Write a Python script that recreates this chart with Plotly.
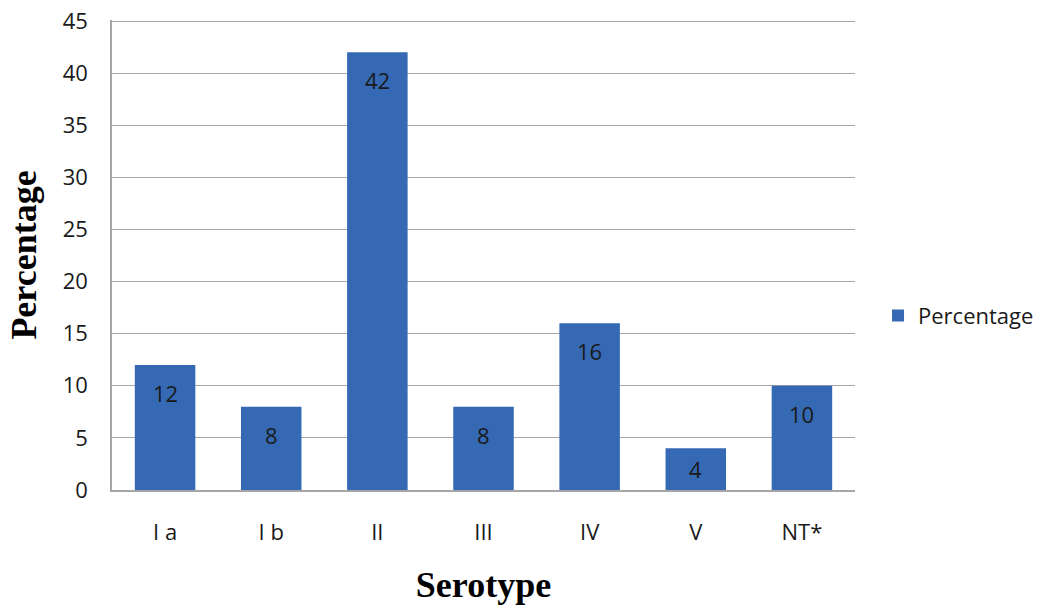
import plotly.graph_objects as go

categories = ["I a", "I b", "II", "III", "IV", "V", "NT*"]
percentages = [12, 8, 42, 8, 16, 4, 10]
series_name = "Percentage"
y_ticks = [0, 5, 10, 15, 20, 25, 30, 35, 40, 45]

BAR_COLOR = "#3569B3"
GRID = "#A6A6A6"
TICK_FONT = dict(family="Open Sans", size=22, color="#1a1a1a")
TITLE_FONT = dict(family="Liberation Serif", size=36, color="#000000")

fig = go.Figure()
fig.add_trace(go.Bar(
    x=categories,
    y=percentages,
    name=series_name,
    marker=dict(color=BAR_COLOR, line=dict(width=0)),
    showlegend=True,
))

# data labels near the top, inside each bar
for c, v in zip(categories, percentages):
    fig.add_annotation(
        x=c, y=max(v - 2.7, v / 2), xref="x", yref="y",
        text=str(v), showarrow=False, yanchor="middle",
        font=TICK_FONT,
    )

fig.update_layout(
    width=1039, height=605,
    margin=dict(l=112, r=184, t=20, b=115, autoexpand=False),
    paper_bgcolor="white", plot_bgcolor="white",
    bargap=0.43,
    font=TICK_FONT,
    legend=dict(x=1.031, y=0.371, xanchor="left", yanchor="middle",
                font=TICK_FONT, bgcolor="rgba(0,0,0,0)"),
    xaxis=dict(
        title=dict(text="<b>Serotype</b>", font=TITLE_FONT, standoff=38),
        showline=True, linecolor=GRID, linewidth=1.5, automargin=False,
        showgrid=False, ticks="", ticklabelstandoff=22,
        tickfont=TICK_FONT, ticklabeloverflow="allow",
    ),
    yaxis=dict(
        title=dict(text="<b>Percentage</b>", font=TITLE_FONT, standoff=15),
        range=[0, 45.1], tickvals=y_ticks, automargin=False,
        showline=True, linecolor=GRID, linewidth=1.5,
        showgrid=True, gridcolor=GRID, gridwidth=1.3,
        zeroline=False, ticks="", ticklabelstandoff=18,
        tickfont=TICK_FONT, ticklabeloverflow="allow",
    ),
)

# remove the default page margin so the figure fills the window exactly
fig.write_html("out.html", config={"displayModeBar": False},
               post_script="document.body.style.margin='0';")
